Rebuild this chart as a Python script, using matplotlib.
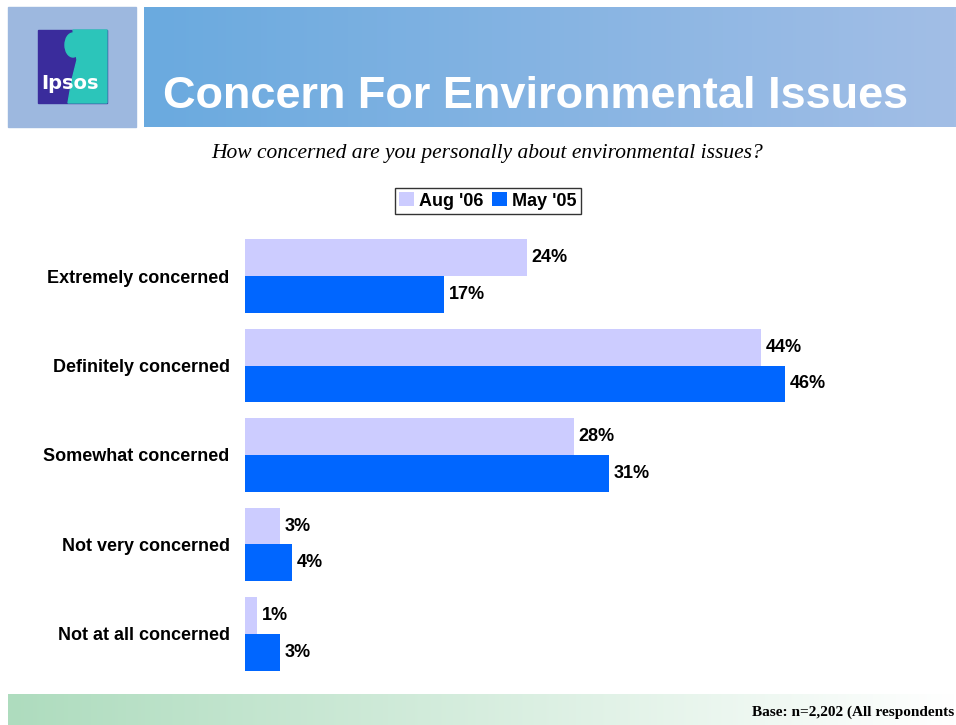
import matplotlib.pyplot as plt
import numpy as np
from matplotlib.patches import Rectangle, Polygon, Ellipse

categories = ["Extremely concerned", "Definitely concerned", "Somewhat concerned",
              "Not very concerned", "Not at all concerned"]
aug_06 = [24, 44, 28, 3, 1]
may_05 = [17, 46, 31, 4, 3]
series_names = ["Aug '06", "May '05"]
series_colors = ["#CCCCFF", "#0066FF"]

title = "Concern For Environmental Issues"
question = "How concerned are you personally about environmental issues?"
base_note = "Base: n=2,202 (All respondents"

W, H = 956, 725


def gradient(ax, x0, x1, y0, y1, c0, c1):
    c0 = np.array(plt.matplotlib.colors.to_rgb(c0))
    c1 = np.array(plt.matplotlib.colors.to_rgb(c1))
    t = np.linspace(0, 1, 256)[:, None]
    img = (c0 * (1 - t) + c1 * t)[None, :, :]
    ax.imshow(img, extent=[x0, x1, y1, y0], aspect="auto", interpolation="bilinear", zorder=1)


def main():
    fig = plt.figure(figsize=(W / 100, H / 100), dpi=100)

    # Background layer in pixel coordinates
    bg = fig.add_axes([0, 0, 1, 1])
    bg.set_xlim(0, W)
    bg.set_ylim(H, 0)
    bg.axis("off")

    # Logo box
    bg.add_patch(Rectangle((8, 7), 128, 120, color="#9DB8DF", zorder=1))
    bg.add_patch(Rectangle((38, 30), 69, 73, color="#3A2C9C", zorder=2))
    bg.add_patch(Polygon([(73, 30), (107, 30), (107, 103), (68, 103), (72, 80), (77, 60)],
                         color="#2CC5BA", zorder=2))
    bg.add_patch(Ellipse((73, 45), 16, 24, color="#2CC5BA", zorder=3))
    bg.text(70, 83, "Ipsos", color="white", fontsize=14, fontweight="bold",
            ha="center", va="center", zorder=4)

    # Title banner
    gradient(bg, 144, W, 7, 127, "#6AAADF", "#A2BEE6")
    bg.text(163, 96, title, color="white", fontsize=32.5, fontweight="bold",
            family="Liberation Sans", ha="left", va="center", zorder=5)

    # Question
    bg.text(487, 153, question, fontsize=15.5, style="italic", family="Liberation Serif",
            ha="center", va="center")

    # Footer band
    gradient(bg, 8, W, 694, H, "#AEDCBE", "#FFFFFF")
    bg.text(954, 712, base_note, fontsize=11, fontweight="bold", family="Liberation Serif",
            ha="right", va="center", zorder=5)

    # Bars
    ax = fig.add_axes([245 / W, 1 - 685 / H, 704 / W, 460 / H])
    y = np.arange(len(categories))
    h = 0.41
    b1 = ax.barh(y - h / 2, aug_06, height=h, color=series_colors[0], label=series_names[0])
    b2 = ax.barh(y + h / 2, may_05, height=h, color=series_colors[1], label=series_names[1])
    for bars, vals in ((b1, aug_06), (b2, may_05)):
        for bar, v in zip(bars, vals):
            ax.text(v + 0.4, bar.get_y() + bar.get_height() / 2, f"{v}%",
                    fontsize=13, fontweight="bold", family="Liberation Sans",
                    ha="left", va="center")

    ax.set_xlim(0, 60)
    ax.set_ylim(4.57, -0.57)
    ax.set_yticks(y)
    ax.set_yticklabels(categories, fontsize=13, fontweight="bold", family="Liberation Sans")
    ax.tick_params(axis="y", length=0, pad=11)
    ax.set_xticks([])
    for s in ax.spines.values():
        s.set_visible(False)
    ax.patch.set_alpha(0)

    leg = fig.legend(loc="center", bbox_to_anchor=(488 / W, 1 - 201 / H), ncol=2,
                     prop={"family": "Liberation Sans", "weight": "bold", "size": 13},
                     frameon=True, fancybox=False, edgecolor="black",
                     handlelength=0.8, handleheight=0.8, handletextpad=0.3,
                     columnspacing=0.5, borderpad=0.25)
    leg.get_frame().set_linewidth(1.0)

    fig.savefig("out.png", dpi=100)


if __name__ == "__main__":
    main()
